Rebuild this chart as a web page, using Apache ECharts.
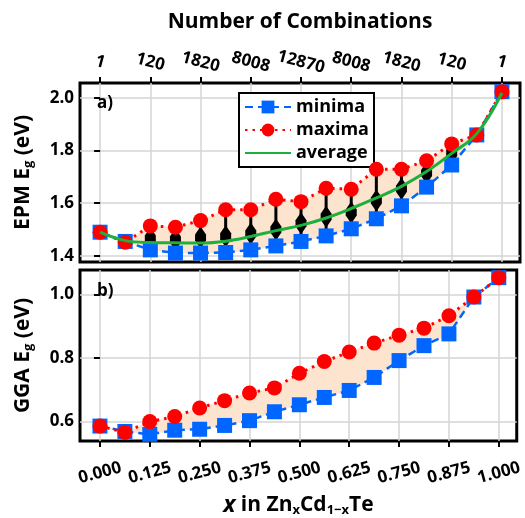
<!DOCTYPE html>
<html><head><meta charset="utf-8">
<script src="https://cdn.jsdelivr.net/npm/echarts@6/dist/echarts.min.js"></script>
<style>html,body{margin:0;padding:0;background:#fff}#c{width:525px;height:518px}</style>
</head><body><div id="c"></div>
<script>
// ---- data ----
const xVals = [0, 0.0625, 0.125, 0.1875, 0.25, 0.3125, 0.375, 0.4375, 0.5, 0.5625, 0.625, 0.6875, 0.75, 0.8125, 0.875, 0.9375, 1.0];
const xTicks = [0, 0.125, 0.25, 0.375, 0.5, 0.625, 0.75, 0.875, 1.0];
const combos = ['1', '120', '1820', '8008', '12870', '8008', '1820', '120', '1'];
const epmMin = [1.490, 1.455, 1.423, 1.411, 1.411, 1.413, 1.423, 1.438, 1.455, 1.476, 1.503, 1.541, 1.590, 1.661, 1.745, 1.859, 2.023];
const epmMax = [1.490, 1.452, 1.514, 1.509, 1.534, 1.575, 1.575, 1.615, 1.606, 1.657, 1.653, 1.729, 1.729, 1.761, 1.825, 1.859, 2.023];
const epmAvg = [1.490, 1.458, 1.451, 1.450, 1.449, 1.456, 1.474, 1.496, 1.516, 1.544, 1.580, 1.620, 1.664, 1.720, 1.789, 1.864, 2.018];
const violinIdx = [2, 3, 4, 5, 6, 7, 8, 9, 10, 11, 12, 13, 14];
const violinCenter = [1.466, 1.462, 1.470, 1.475, 1.485, 1.500, 1.524, 1.549, 1.565, 1.610, 1.655, 1.715, 1.790];
const ggaMin = [0.586, 0.569, 0.560, 0.573, 0.576, 0.588, 0.603, 0.631, 0.653, 0.676, 0.698, 0.739, 0.792, 0.839, 0.876, 0.992, 1.053];
const ggaMax = [0.586, 0.566, 0.600, 0.616, 0.643, 0.666, 0.690, 0.706, 0.752, 0.789, 0.819, 0.847, 0.872, 0.894, 0.933, 0.992, 1.053];
const epmTicks = [1.4, 1.6, 1.8, 2.0];
const ggaTicks = [0.6, 0.8, 1.0];

// ---- helpers ----
const F = 'Open Sans';
const pair = (ys) => xVals.map((x, i) => [x, ys[i]]);
const BLUE = '#0066FF', RED = '#FF0000', GREEN = '#1DB03C', FILL = '#FCE4CF';
const subStyle = { fontFamily: F, fontWeight: 'bold', fontSize: 13, padding: [10, 0, 0, 0], color: '#000' };
const itStyle = { fontFamily: F, fontWeight: 'bold', fontStyle: 'italic', fontSize: 23, color: '#000' };
const nameStyle = { fontFamily: F, fontWeight: 'bold', fontSize: 21, color: '#000', rich: { sub: subStyle, it: itStyle } };
const xNameStyle = { fontFamily: F, fontWeight: 'bold', fontSize: 21, color: '#000', rich: { sub: subStyle, it: itStyle } };
const labStyle = { fontFamily: F, fontWeight: 'bold', fontSize: 17, color: '#000' };
const split = { show: true, lineStyle: { color: '#d4d4d4', width: 1.5 } };
const tick = (vals) => ({ show: true, inside: false, length: 6, lineStyle: { color: '#000', width: 2 }, customValues: vals });

function band(xi, yi, lo, hi) {
  const segs = [];
  for (let i = 0; i < xVals.length - 1; i++) segs.push([xVals[i], lo[i], hi[i], xVals[i + 1], lo[i + 1], hi[i + 1]]);
  return { type: 'custom', xAxisIndex: xi, yAxisIndex: yi, data: segs, z: 1, silent: true, clip: false,
    renderItem: function (params, api) {
      const a = api.coord([api.value(0), api.value(1)]);
      const b = api.coord([api.value(0), api.value(2)]);
      const c = api.coord([api.value(3), api.value(5)]);
      const d = api.coord([api.value(3), api.value(4)]);
      return { type: 'polygon', shape: { points: [a, b, c, d] }, style: { fill: FILL, stroke: FILL, lineWidth: 0.8 } };
    } };
}
function minS(xi, yi, d) {
  return { name: 'minima', type: 'line', xAxisIndex: xi, yAxisIndex: yi, data: pair(d), symbol: 'rect', symbolSize: 15,
    itemStyle: { color: BLUE }, lineStyle: { color: BLUE, width: 2.5, type: [8, 5] }, z: 4, clip: false };
}
function maxS(xi, yi, d) {
  return { name: 'maxima', type: 'line', xAxisIndex: xi, yAxisIndex: yi, data: pair(d), symbol: 'circle', symbolSize: 15,
    itemStyle: { color: RED }, lineStyle: { color: RED, width: 3, type: [2.5, 5] }, z: 5, clip: false };
}

const violinData = violinIdx.map((k, j) => [xVals[k], epmMin[k], epmMax[k], violinCenter[j]]);

const option = {
  animation: false,
  backgroundColor: '#fff',
  textStyle: { fontFamily: F },
  title: [
    { text: 'a)', left: 92, top: 90, textStyle: { fontFamily: F, fontWeight: 'bold', fontSize: 17, color: '#000' } },
    { text: 'b)', left: 92, top: 278, textStyle: { fontFamily: F, fontWeight: 'bold', fontSize: 17, color: '#000' } }
  ],
  legend: {
    data: ['minima', 'maxima', { name: 'average', itemStyle: { opacity: 0 } }], orient: 'vertical', left: 239, top: 93,
    borderColor: '#000', borderWidth: 2, backgroundColor: '#fff', padding: [5, 5, 5, 5], itemGap: 5,
    itemWidth: 46, itemHeight: 16, selectedMode: false,
    textStyle: { fontFamily: F, fontWeight: 'bold', fontSize: 18, lineHeight: 18, color: '#000' }
  },
  grid: [
    { left: 80, top: 83, width: 440, height: 179, show: true, borderColor: '#000', borderWidth: 3, backgroundColor: 'transparent' },
    { left: 80, top: 270, width: 440, height: 178, show: true, borderColor: '#000', borderWidth: 3, backgroundColor: 'transparent' }
  ],
  xAxis: [
    { gridIndex: 0, type: 'value', position: 'top', min: -0.05, max: 1.045,
      name: 'Number of Combinations', nameLocation: 'middle', nameGap: 50, nameTextStyle: nameStyle,
      axisLine: { show: false }, axisTick: tick(xTicks),
      axisLabel: { customValues: xTicks, rotate: 15, margin: 21, align: 'center', verticalAlign: 'middle', ...labStyle,
        formatter: (v) => combos[Math.round(v * 8)] },
      splitLine: split },
    { gridIndex: 1, type: 'value', position: 'bottom', min: -0.05, max: 1.045,
      name: '{it|x} in Zn{sub|x}Cd{sub|1\u2212x}Te', nameLocation: 'middle', nameGap: 53, nameTextStyle: xNameStyle,
      axisLine: { show: false }, axisTick: tick(xTicks),
      axisLabel: { customValues: xTicks, rotate: 15, margin: 32, align: 'center', verticalAlign: 'middle', ...labStyle,
        formatter: (v) => v.toFixed(3) },
      splitLine: split }
  ],
  yAxis: [
    { gridIndex: 0, type: 'value', min: 1.377, max: 2.056,
      name: 'EPM E{sub|g} (eV)', nameLocation: 'middle', nameGap: 45, nameRotate: 90, nameTextStyle: nameStyle,
      axisLine: { show: false }, axisTick: tick(epmTicks),
      axisLabel: { customValues: epmTicks, margin: 6, ...labStyle, formatter: (v) => v.toFixed(1) },
      splitLine: split },
    { gridIndex: 1, type: 'value', min: 0.539, max: 1.077,
      name: 'GGA E{sub|g} (eV)', nameLocation: 'middle', nameGap: 45, nameRotate: 90, nameTextStyle: nameStyle,
      axisLine: { show: false }, axisTick: tick(ggaTicks),
      axisLabel: { customValues: ggaTicks, margin: 6, ...labStyle, formatter: (v) => v.toFixed(1) },
      splitLine: split }
  ],
  series: [
    band(0, 0, epmMin, epmMax),
    { type: 'custom', xAxisIndex: 0, yAxisIndex: 0, data: violinData, z: 3, silent: true, clip: false,
      renderItem: function (params, api) {
        const lo = api.coord([api.value(0), api.value(1)]);
        const hi = api.coord([api.value(0), api.value(2)]);
        const c = api.coord([api.value(0), api.value(3)]);
        const w = 5.5, h = 11;
        return { type: 'group', children: [
          { type: 'line', shape: { x1: lo[0], y1: lo[1], x2: hi[0], y2: hi[1] }, style: { stroke: '#000', lineWidth: 3 } },
          { type: 'polygon', shape: { points: [[c[0], c[1] - h], [c[0] + w, c[1] - 3], [c[0] + w, c[1] + 3], [c[0], c[1] + h], [c[0] - w, c[1] + 3], [c[0] - w, c[1] - 3]] },
            style: { fill: '#000' } }
        ] };
      } },
    minS(0, 0, epmMin),
    maxS(0, 0, epmMax),
    { name: 'average', type: 'line', xAxisIndex: 0, yAxisIndex: 0, data: pair(epmAvg), smooth: 0.4, symbol: 'none',
      itemStyle: { color: GREEN }, lineStyle: { color: GREEN, width: 3 }, z: 6, clip: false },
    band(1, 1, ggaMin, ggaMax),
    minS(1, 1, ggaMin),
    maxS(1, 1, ggaMax)
  ]
};
const chart = echarts.init(document.getElementById('c'), null, { renderer: 'canvas' });
chart.setOption(option);
</script>
</body></html>
